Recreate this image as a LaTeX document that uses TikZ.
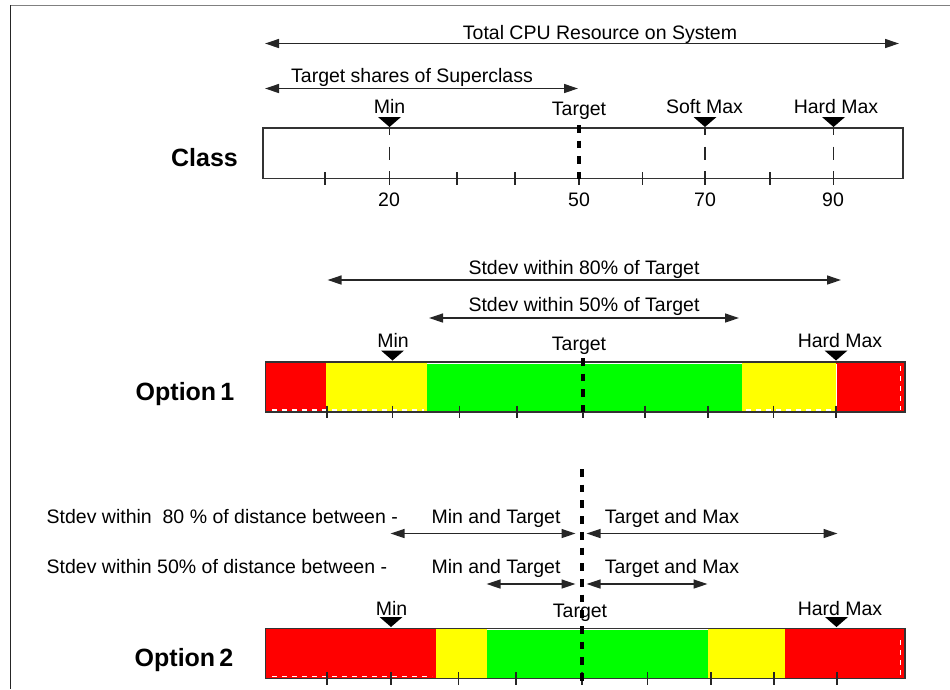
\documentclass[tikz,border=0pt]{standalone}
\usepackage{fontspec}
\setmainfont{Liberation Sans}
\usetikzlibrary{arrows.meta}
\definecolor{cred}{RGB}{255,0,0}
\definecolor{cyel}{RGB}{255,255,0}
\definecolor{cgrn}{RGB}{0,255,0}
\tikzset{
  lbl/.style={font=\fontsize{19.5}{20}\selectfont, inner sep=0pt, anchor=base},
  big/.style={font=\fontsize{25}{26}\selectfont\bfseries, inner sep=0pt, anchor=base},
  dim/.style={line width=1.3pt, draw=black!85, {Triangle[length=14pt,width=9pt]}-{Triangle[length=14pt,width=9pt]}},
  barframe/.style={draw=black!80, line width=1.4pt},
  tickmark/.style={line width=1.2pt, draw=black!85},
  marker/.style={fill=black, draw=none},
  thindash/.style={line width=1.3pt, draw=black!85, dash pattern=on 13pt off 11.7pt, dash phase=6pt},
  thickdash/.style={line width=4pt, draw=black, dash pattern=on 7.7pt off 8pt},
  artifact/.style={draw=white, line width=1.3pt, dash pattern=on 5pt off 5pt},
}
\newcommand{\mkTri}[2]{\fill[marker] (#1-11.5,#2) -- (#1+11.5,#2) -- (#1,#2+10) -- cycle;}
\begin{document}
\begin{tikzpicture}[x=1pt,y=-1pt]
\useasboundingbox (0,0) rectangle (950,689);
% frame
\draw[draw=black!50, line width=1.5pt] (10,5.5) -- (950,5.5);
\draw[draw=black!85, line width=1.5pt] (10.5,5) -- (10.5,689);

% ===== Class =====
\node[lbl] (ttl) at (600,39) {Total CPU Resource on System};
\coordinate (tA) at (265,43.5); \coordinate (tB) at (899,43.5);
\draw[dim] (tA) -- (tB);
\node[lbl] (tss) at (412,82) {Target shares of Superclass};
\coordinate (sA) at (265,88.5); \coordinate (sB) at (578,88.5);
\draw[dim] (sA) -- (sB);

\node[lbl] (cmin) at (389.5,113) {Min};
\node[lbl] (ctgt) at (579,115) {Target};
\node[lbl] (csmx) at (704.5,113) {Soft Max};
\node[lbl] (chmx) at (836,113) {Hard Max};
\mkTri{389.5}{117}
\mkTri{705}{117}
\mkTri{833.5}{117}

\node[big] (cls) at (204.5,166) {Class};
\draw[barframe] (263,128) rectangle (903,178.5);
\foreach \x in {325,389.5,457,515,579,642.5,705,770,833.5}
  \draw[tickmark] (\x,172) -- (\x,184.5);
\foreach \x in {389.5,705,833.5}
  \draw[thindash] (\x,128) -- (\x,178.5);
\draw[thickdash] (579,125) -- (579,178.5);
\node[lbl] (n20) at (389,206) {20};
\node[lbl] (n50) at (579,206) {50};
\node[lbl] (n70) at (705,206) {70};
\node[lbl] (n90) at (833,206) {90};

% ===== Option 1 =====
\node[lbl] (o1a) at (584,274) {Stdev within 80\% of Target};
\coordinate (aA) at (327.5,280); \coordinate (aB) at (841,280);
\draw[dim] (aA) -- (aB);
\node[lbl] (o1b) at (584,311.5) {Stdev within 50\% of Target};
\coordinate (bA) at (429,318); \coordinate (bB) at (739,318);
\draw[dim] (bA) -- (bB);

\node[lbl] (o1min) at (393,347) {Min};
\node[lbl] (o1tgt) at (579,350) {Target};
\node[lbl] (o1hmx) at (840,347) {Hard Max};

\fill[cred] (265.5,362) rectangle (325.5,412);
\fill[cyel] (325.5,362) rectangle (426.5,412);
\fill[cgrn] (426.5,363.5) rectangle (742,412);
\fill[cyel] (742,362) rectangle (836,412);
\fill[cred] (836,362) rectangle (905,412);
\draw[artifact] (272,410) -- (424,410);
\draw[artifact] (746,410) -- (834,410);
\draw[artifact] (900.5,366) -- (900.5,410);
\draw[draw=white, line width=1pt] (836.5,364) -- (836.5,410);
\draw[barframe] (265.5,362) rectangle (905,412);
\mkTri{392.5}{350.5}
\mkTri{836}{350.5}
\foreach \x in {327,392.5,459.5,517,583,645,708,773.5,836}
  \draw[tickmark] (\x,405.5) -- (\x,418);
\draw[thickdash] (582.5,358) -- (582.5,412);
\node[big] (opt1) at (185,400) {Option\,1};

% ===== Option 2 =====
\node[lbl, anchor=base west] (o2a) at (46.5,523) {Stdev within\ \ 80 \% of distance between -};
\node[lbl] (o2amt) at (496,523) {Min and Target};
\node[lbl] (o2atm) at (672,523) {Target and Max};
\coordinate (cA) at (390.5,533.5); \coordinate (cB) at (575.5,533.5);
\coordinate (cC) at (586.5,533.5); \coordinate (cD) at (837.5,533.5);
\draw[dim] (cA) -- (cB);
\draw[dim] (cC) -- (cD);

\node[lbl, anchor=base west] (o2b) at (46.5,573.5) {Stdev within 50\% of distance between -};
\node[lbl] (o2bmt) at (496,573.5) {Min and Target};
\node[lbl] (o2btm) at (672,573.5) {Target and Max};
\coordinate (dA) at (486.5,584); \coordinate (dB) at (575.5,584);
\coordinate (dC) at (586.5,584); \coordinate (dD) at (707.5,584);
\draw[dim] (dA) -- (dB);
\draw[dim] (dC) -- (dD);

\node[lbl] (o2min) at (391.5,615) {Min};
\node[lbl] (o2tgt) at (580,617) {Target};
\node[lbl] (o2hmx) at (840,615) {Hard Max};

\fill[cred] (265.5,628.3) rectangle (435.5,678.3);
\fill[cyel] (435.5,628.3) rectangle (487,678.3);
\fill[cgrn] (487,629.8) rectangle (707.5,678.3);
\fill[cyel] (707.5,628.3) rectangle (785,678.3);
\fill[cred] (785,628.3) rectangle (905,678.3);
\draw[artifact] (272,676.5) -- (432,676.5);
\draw[artifact] (900.5,640) -- (900.5,676);
\draw[barframe] (265.5,628.3) rectangle (905,678.3);
\mkTri{391}{617}
\mkTri{836.5}{617}
\foreach \x in {327,391,458.5,516,582,647.5,711,774,837}
  \draw[tickmark] (\x,672) -- (\x,684.5);
\draw[thickdash] (581.5,469) -- (581.5,684);
\node[big] (opt2) at (184,666) {Option\,2};
\end{tikzpicture}
\end{document}
